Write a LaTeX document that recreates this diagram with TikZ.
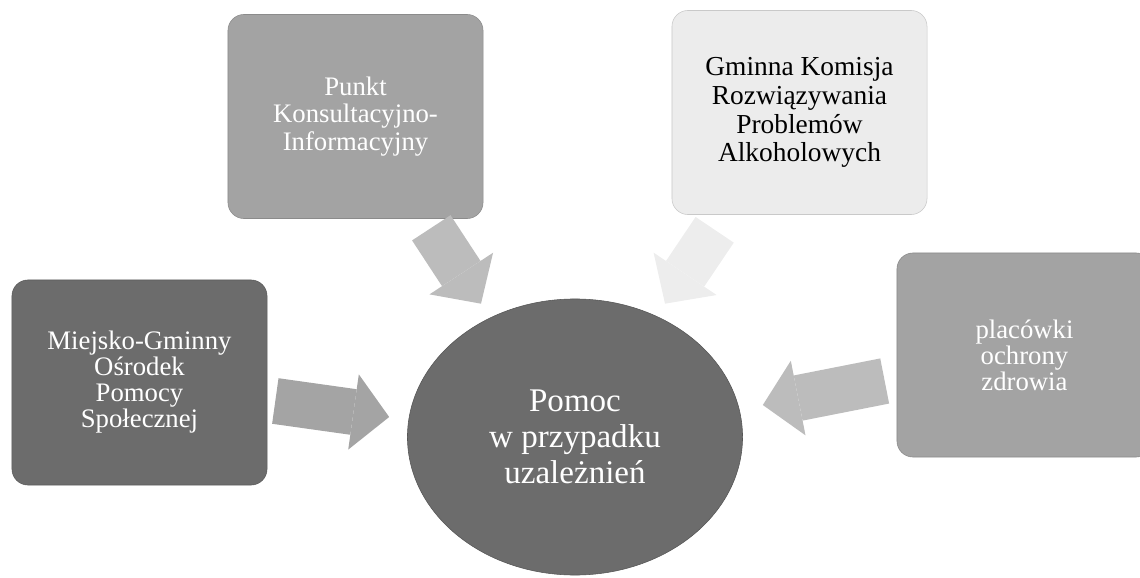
\documentclass[tikz,border=0pt]{standalone}
\usepackage{fontspec}
\setmainfont{Liberation Serif}
\usetikzlibrary{arrows.meta,calc,shapes.geometric}

\definecolor{darkbox}{HTML}{6C6C6C}
\definecolor{midbox}{HTML}{A3A3A3}
\definecolor{lightbox}{HTML}{ECECEC}
\definecolor{arrowgrey}{HTML}{A4A4A4}
\definecolor{arrowlight}{HTML}{BCBCBC}
\definecolor{arrowpale}{HTML}{EDEDED}

\tikzset{
  unitbox/.style={draw=#1!85!black, fill=#1, rounded corners=0.4cm,
    minimum width=6.375cm, minimum height=5.1cm, inner sep=0pt,
    align=center, font=\fontsize{19}{18.5}\selectfont},
  blockarrow/.style={draw=#1, line width=1.15cm,
    -{Triangle[width=1.9cm,length=0.9cm,line width=0pt]}}
}

\begin{document}
\begin{tikzpicture}[x=0.025cm,y=-0.025cm]
        \useasboundingbox (0,0) rectangle (1140,578);

        % Draw the four help units
        \node[unitbox=darkbox, text=white, minimum height=5.125cm] (mgops) at (139.5,382.5)
            {Miejsko-Gminny\\Ośrodek\\Pomocy\\Społecznej};
        \node[unitbox=midbox, text=white, font=\fontsize{19}{19.5}\selectfont] (punkt) at (355.5,116.5)
            {\rule{0pt}{10pt}Punkt\\Konsultacyjno-\\Informacyjny};
        \node[unitbox=lightbox, text=black, font=\fontsize{19.5}{20.5}\selectfont] (gminna) at (799.5,112.5)
            {Gminna Komisja\\Rozwiązywania\\Problemów\\Alkoholowych};
        \node[unitbox=midbox, text=white] (placowki) at (1024.5,355)
            {placówki\\ochrony\\zdrowia};

        % Draw central ellipse
        \node[ellipse, draw=darkbox!80!black, fill=darkbox, text=white,
            minimum width=8.375cm, minimum height=6.9cm, align=center,
            font=\fontsize{23.5}{25.5}\selectfont] (pomoc) at (575,437)
            {Pomoc\\w przypadku\\uzależnień};

        % Block arrows towards the centre
        \draw[blockarrow=arrowgrey] ($(mgops.east)+(8,18.5)$) -- ($(pomoc.west)+(-18,-20)$);
        \draw[blockarrow=arrowlight] ($(punkt.south east)+(-52,9)$) -- ($(pomoc.north)+(-94,5)$);
        \draw[blockarrow=arrowpale] ($(gminna.south west)+(43,15)$) -- ($(pomoc.north)+(90,5)$);
        \draw[blockarrow=arrowlight] ($(placowki.west)+(-12,26)$) -- ($(pomoc.east)+(20,-32)$);
    \end{tikzpicture}
\end{document}
